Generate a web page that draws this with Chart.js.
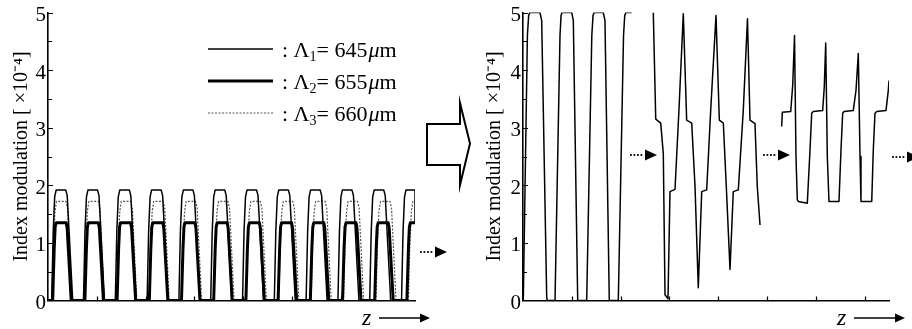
<!DOCTYPE html>
<html>
<head>
<meta charset="utf-8">
<script src="https://cdn.jsdelivr.net/npm/chart.js@4"></script>
<style>
  html, body { margin: 0; padding: 0; background: #fff; }
  #wrap { position: relative; width: 912px; height: 329px; overflow: hidden; background: #fff; }
  #left { position: absolute; left: 0; top: 0; }
  #right { position: absolute; left: 470px; top: 0; }
</style>
</head>
<body>
<div id="wrap">
  <canvas id="left" width="480" height="329"></canvas>
  <canvas id="right" width="442" height="329"></canvas>
</div>
<script>
// ---------------- data (z in arbitrary units, index modulation in 1e-4) ----------------
const yTickValues = [0, 1, 2, 3, 4, 5];
const seriesNames = ['Λ1', 'Λ2', 'Λ3'];
const seriesPeriods = [645, 655, 660];
const axisTitle = 'Index modulation [ ×10⁻⁴]';

const lambda1 = [
  [0,0],[0.76,0],[1.07,1.2],[1.37,1.8],[1.68,1.92],[3.63,1.92],[3.94,1.82],[5.06,0],
  [7.27,0],[7.58,1.2],[7.88,1.8],[8.19,1.92],[10.14,1.92],[10.45,1.82],[11.57,0],
  [13.79,0],[14.10,1.2],[14.40,1.8],[14.71,1.92],[16.66,1.92],[16.97,1.82],[18.09,0],
  [20.31,0],[20.62,1.2],[20.92,1.8],[21.23,1.92],[23.18,1.92],[23.49,1.82],[24.61,0],
  [26.82,0],[27.13,1.2],[27.43,1.8],[27.74,1.92],[29.69,1.92],[30.00,1.82],[31.12,0],
  [33.34,0],[33.65,1.2],[33.95,1.8],[34.26,1.92],[36.21,1.92],[36.52,1.82],[37.64,0],
  [39.86,0],[40.17,1.2],[40.47,1.8],[40.78,1.92],[42.73,1.92],[43.04,1.82],[44.16,0],
  [46.37,0],[46.68,1.2],[46.98,1.8],[47.29,1.92],[49.24,1.92],[49.55,1.82],[50.67,0],
  [52.89,0],[53.20,1.2],[53.50,1.8],[53.81,1.92],[55.76,1.92],[56.07,1.82],[57.19,0],
  [59.41,0],[59.72,1.2],[60.02,1.8],[60.33,1.92],[62.28,1.92],[62.59,1.82],[63.71,0],
  [65.92,0],[66.23,1.2],[66.53,1.8],[66.84,1.92],[68.79,1.92],[69.10,1.82],[70.22,0],
  [72.44,0],[72.75,1.2],[73.05,1.8],[73.36,1.92],[75.2,1.92],[75.2,1.35]
];
const lambda2 = [
  [0,0],[0.96,0],[1.27,0.9],[1.47,1.28],[1.68,1.35],[3.73,1.35],[3.93,1.25],[4.75,0],
  [7.56,0],[7.87,0.9],[8.07,1.28],[8.28,1.35],[10.33,1.35],[10.53,1.25],[11.35,0],
  [14.16,0],[14.47,0.9],[14.67,1.28],[14.88,1.35],[16.93,1.35],[17.13,1.25],[17.95,0],
  [20.76,0],[21.07,0.9],[21.27,1.28],[21.48,1.35],[23.53,1.35],[23.73,1.25],[24.55,0],
  [27.35,0],[27.66,0.9],[27.86,1.28],[28.07,1.35],[30.12,1.35],[30.32,1.25],[31.14,0],
  [33.95,0],[34.26,0.9],[34.46,1.28],[34.67,1.35],[36.72,1.35],[36.92,1.25],[37.74,0],
  [40.55,0],[40.86,0.9],[41.06,1.28],[41.27,1.35],[43.32,1.35],[43.52,1.25],[44.34,0],
  [47.15,0],[47.46,0.9],[47.66,1.28],[47.87,1.35],[49.92,1.35],[50.12,1.25],[50.94,0],
  [53.75,0],[54.06,0.9],[54.26,1.28],[54.47,1.35],[56.52,1.35],[56.72,1.25],[57.54,0],
  [60.35,0],[60.66,0.9],[60.86,1.28],[61.07,1.35],[63.12,1.35],[63.32,1.25],[64.14,0],
  [66.94,0],[67.25,0.9],[67.45,1.28],[67.66,1.35],[69.71,1.35],[69.91,1.25],[70.73,0],
  [73.54,0],[73.85,0.9],[74.05,1.28],[74.26,1.35],[75.2,1.35]
];
const lambda3 = [
  [0,0],[0.82,0],[1.13,1.0],[1.43,1.55],[1.74,1.72],[3.69,1.72],[4.00,1.6],[4.92,0],
  [7.46,0],[7.77,1.0],[8.07,1.55],[8.38,1.72],[10.33,1.72],[10.64,1.6],[11.56,0],
  [14.10,0],[14.41,1.0],[14.71,1.55],[15.02,1.72],[16.97,1.72],[17.28,1.6],[18.20,0],
  [20.74,0],[21.05,1.0],[21.35,1.55],[21.66,1.72],[23.61,1.72],[23.92,1.6],[24.84,0],
  [27.38,0],[27.69,1.0],[27.99,1.55],[28.30,1.72],[30.25,1.72],[30.56,1.6],[31.48,0],
  [34.02,0],[34.33,1.0],[34.63,1.55],[34.94,1.72],[36.89,1.72],[37.20,1.6],[38.12,0],
  [40.65,0],[40.96,1.0],[41.26,1.55],[41.57,1.72],[43.52,1.72],[43.83,1.6],[44.75,0],
  [47.29,0],[47.60,1.0],[47.90,1.55],[48.21,1.72],[50.16,1.72],[50.47,1.6],[51.39,0],
  [53.93,0],[54.24,1.0],[54.54,1.55],[54.85,1.72],[56.80,1.72],[57.11,1.6],[58.03,0],
  [60.57,0],[60.88,1.0],[61.18,1.55],[61.49,1.72],[63.44,1.72],[63.75,1.6],[64.67,0],
  [67.21,0],[67.52,1.0],[67.82,1.55],[68.13,1.72],[70.08,1.72],[70.39,1.6],[71.31,0],
  [73.85,0],[74.16,1.0],[74.46,1.55],[74.77,1.72],[75.2,1.72]
];
// right panel: evolution of the modulation (null = break in the curve)
const evolved = [
  [0.06,0],[0.9,4.6],[1.16,4.95],[1.4,5.0],[3.48,5.0],[3.83,4.86],[4.86,0.05],[5.0,0],
  [6.56,0],[7.58,4.6],[7.8,4.95],[8.0,5.0],[9.98,5.0],[10.31,4.86],[11.21,0],
  [13.05,0],[14.1,4.6],[14.35,4.95],[14.6,5.0],[16.45,5.0],[16.8,4.86],[17.68,0],
  [19.53,0],[20.6,4.6],[20.85,4.95],[21.1,5.0],[22.27,5.0],[24,null],
  [26.70,5.0],[27.2,3.15],[28.22,3.08],[28.75,2.55],[29.1,0.1],[29.71,0.03],
  [30.12,1.89],[31.15,1.93],[31.97,3.33],[32.85,4.98],[33.54,3.13],[34.57,3.08],[35.25,1.98],[35.92,0.22],
  [36.62,1.89],[37.64,1.92],[38.46,3.3],[39.55,4.95],[40.23,3.13],[41.05,3.08],[41.66,1.98],[42.42,0.54],
  [43.09,1.89],[44.12,1.92],[45.14,3.3],[46.0,4.89],[46.52,3.13],[47.54,3.07],[48.01,1.98],[48.57,1.31],[50,null],
  [53.01,3.02],[53.14,3.27],[54.86,3.28],[55.27,3.74],[55.64,4.6],[55.94,2.5],[56.21,1.75],[56.41,1.72],[58.26,1.69],
  [58.81,2.61],[59.16,3.25],[59.49,3.28],[61.41,3.3],[61.74,3.71],[62.03,4.47],[62.36,2.5],[62.70,1.72],[64.75,1.72],
  [65.16,2.61],[65.51,3.25],[65.78,3.28],[67.68,3.3],[68.24,3.65],[68.71,4.29],[69.06,2.5],[69.26,1.72],[71.46,1.72],
  [71.78,2.61],[72.13,3.25],[72.48,3.28],[74.39,3.3],[74.86,3.65],[75.0,3.82]
];
const zMaxLeft = 75.2;
const zMaxRight = 75.0;
const zTickStep = 10;

// ---------------- helpers ----------------
const SERIF = '"Liberation Serif", "Times New Roman", serif';

function drawInwardTicks(chart) {
  const { ctx, chartArea: a, scales: { x, y } } = chart;
  ctx.save();
  ctx.strokeStyle = '#000';
  ctx.lineWidth = 1.2;
  ctx.beginPath();
  y.ticks.forEach(t => {
    if (t.value === 0) return;
    const py = Math.round(y.getPixelForValue(t.value)) + 0.5;
    const len = Number.isInteger(t.value) ? 5 : 4;
    ctx.moveTo(a.left, py); ctx.lineTo(a.left + len, py);
  });
  x.ticks.forEach(t => {
    if (t.value === 0 || t.value % zTickStep !== 0) return;
    const px = Math.round(x.getPixelForValue(t.value)) + 0.5;
    ctx.moveTo(px, a.bottom); ctx.lineTo(px, a.bottom - 4);
  });
  ctx.stroke();
  ctx.restore();
}

function dotArrow(ctx, x0, y, headStart, headEnd) {
  ctx.save();
  ctx.fillStyle = '#000';
  const n = 4, step = (headStart - x0 - 1) / n;
  for (let i = 0; i < n; i++) ctx.fillRect(x0 + i * step, y - 0.9, 1.8, 1.8);
  ctx.beginPath();
  ctx.moveTo(headStart, y - 5.5);
  ctx.lineTo(headEnd, y);
  ctx.lineTo(headStart, y + 5.5);
  ctx.closePath();
  ctx.fill();
  ctx.restore();
}

function zArrow(ctx, xz, y) {
  ctx.save();
  ctx.fillStyle = '#000';
  ctx.strokeStyle = '#000';
  ctx.font = 'italic 24px ' + SERIF;
  ctx.textBaseline = 'alphabetic';
  ctx.fillText('z', xz, y + 7);
  ctx.lineWidth = 1.5;
  ctx.beginPath();
  ctx.moveTo(xz + 17, y); ctx.lineTo(xz + 60, y);
  ctx.stroke();
  ctx.beginPath();
  ctx.moveTo(xz + 58, y - 4.5); ctx.lineTo(xz + 68, y); ctx.lineTo(xz + 58, y + 4.5);
  ctx.closePath(); ctx.fill();
  ctx.restore();
}

function drawLegend(chart) {
  const { ctx } = chart;
  const rows = [49, 81, 113];
  ctx.save();
  chart.data.datasets.forEach((ds, i) => {
    const y = rows[i];
    ctx.strokeStyle = ds.borderColor;
    ctx.lineWidth = ds.borderWidth;
    ctx.setLineDash(ds.borderDash || []);
    ctx.beginPath(); ctx.moveTo(208, y); ctx.lineTo(273, y); ctx.stroke();
    ctx.setLineDash([]);
    ctx.fillStyle = '#000';
    ctx.textBaseline = 'alphabetic';
    const base = y + 8;
    let x = 282;
    ctx.font = '22px ' + SERIF;
    const name = seriesNames[i];
    const t1 = ': ' + name[0];
    ctx.fillText(t1, x, base); x += ctx.measureText(t1).width;
    ctx.font = '14px ' + SERIF;
    ctx.fillText(name.slice(1), x, base + 4); x += ctx.measureText(name.slice(1)).width;
    ctx.font = '22px ' + SERIF;
    const t2 = '= ' + seriesPeriods[i];
    ctx.fillText(t2, x, base); x += ctx.measureText(t2).width + 1;
    ctx.font = 'italic 22px ' + SERIF;
    ctx.fillText('μ', x, base); x += ctx.measureText('μ').width;
    ctx.font = '22px ' + SERIF;
    ctx.fillText('m', x, base);
  });
  ctx.restore();
}

function bigArrow(ctx) {
  ctx.save();
  ctx.strokeStyle = '#000';
  ctx.lineWidth = 2;
  ctx.lineJoin = 'miter';
  ctx.beginPath();
  ctx.moveTo(427, 124); ctx.lineTo(460, 124); ctx.lineTo(460, 103);
  ctx.lineTo(470, 143.5); ctx.lineTo(460, 185); ctx.lineTo(460, 165);
  ctx.lineTo(427, 165); ctx.closePath();
  ctx.stroke();
  ctx.restore();
}

function yScale(leftWidth, titlePad) {
  return {
    type: 'linear', min: 0, max: 5,
    afterFit: s => { s.width = leftWidth; },
    ticks: {
      stepSize: 0.5, autoSkip: false, color: '#000', padding: 2, labelOffset: 3,
      font: { family: SERIF, size: 21, lineHeight: 1 },
      callback: v => (Number.isInteger(v) && yTickValues.includes(v)) ? String(v) : ''
    },
    grid: { display: false, drawTicks: false },
    border: { display: true, color: '#000', width: 1.6 },
    title: { display: true, text: axisTitle, color: '#000', font: { family: SERIF, size: 20, lineHeight: 1.2 }, padding: { top: titlePad, bottom: 0 } }
  };
}
function xScale(max) {
  return {
    type: 'linear', min: 0, max: max,
    afterFit: s => { s.height = 0; },
    ticks: { display: false, stepSize: zTickStep, includeBounds: false },
    grid: { display: false, drawTicks: false },
    border: { display: true, color: '#000', width: 1.6 }
  };
}
const common = {
  responsive: false, animation: false, devicePixelRatio: 1,
  plugins: { legend: { display: false }, tooltip: { enabled: false } },
  elements: { point: { radius: 0 }, line: { tension: 0, borderJoinStyle: 'round' } },
};

// ---------------- left chart ----------------
new Chart(document.getElementById('left'), {
  type: 'line',
  data: {
    datasets: [
      { label: seriesNames[0], data: lambda1, borderColor: '#000', borderWidth: 1.5, fill: false },
      { label: seriesNames[1], data: lambda2, borderColor: '#000', borderWidth: 3, fill: false },
      { label: seriesNames[2], data: lambda3, borderColor: '#555', borderWidth: 1.2, borderDash: [2, 1.5], fill: false }
    ]
  },
  options: Object.assign({}, common, {
    layout: { padding: { left: 0, top: 12, right: 65, bottom: 28.5 } },
    scales: { x: xScale(zMaxLeft), y: yScale(48, 10) }
  }),
  plugins: [{
    id: 'leftDecor',
    afterDraw(chart) {
      drawInwardTicks(chart);
      drawLegend(chart);
      dotArrow(chart.ctx, 420, 252, 435, 447);
      zArrow(chart.ctx, 362, 318);
      bigArrow(chart.ctx);
    }
  }]
});

// ---------------- right chart ----------------
new Chart(document.getElementById('right'), {
  type: 'line',
  data: {
    datasets: [
      { label: 'evolved', data: evolved, borderColor: '#000', borderWidth: 1.5, fill: false, spanGaps: false }
    ]
  },
  options: Object.assign({}, common, {
    layout: { padding: { left: 0, top: 12, right: 23, bottom: 28.5 } },
    scales: { x: xScale(zMaxRight), y: yScale(53, 13) }
  }),
  plugins: [{
    id: 'rightDecor',
    afterDraw(chart) {
      drawInwardTicks(chart);
      dotArrow(chart.ctx, 160, 155, 175, 187);
      dotArrow(chart.ctx, 293, 155, 308, 320);
      dotArrow(chart.ctx, 422, 157, 437, 449);
      zArrow(chart.ctx, 367, 318);
    }
  }]
});
</script>
</body>
</html>
